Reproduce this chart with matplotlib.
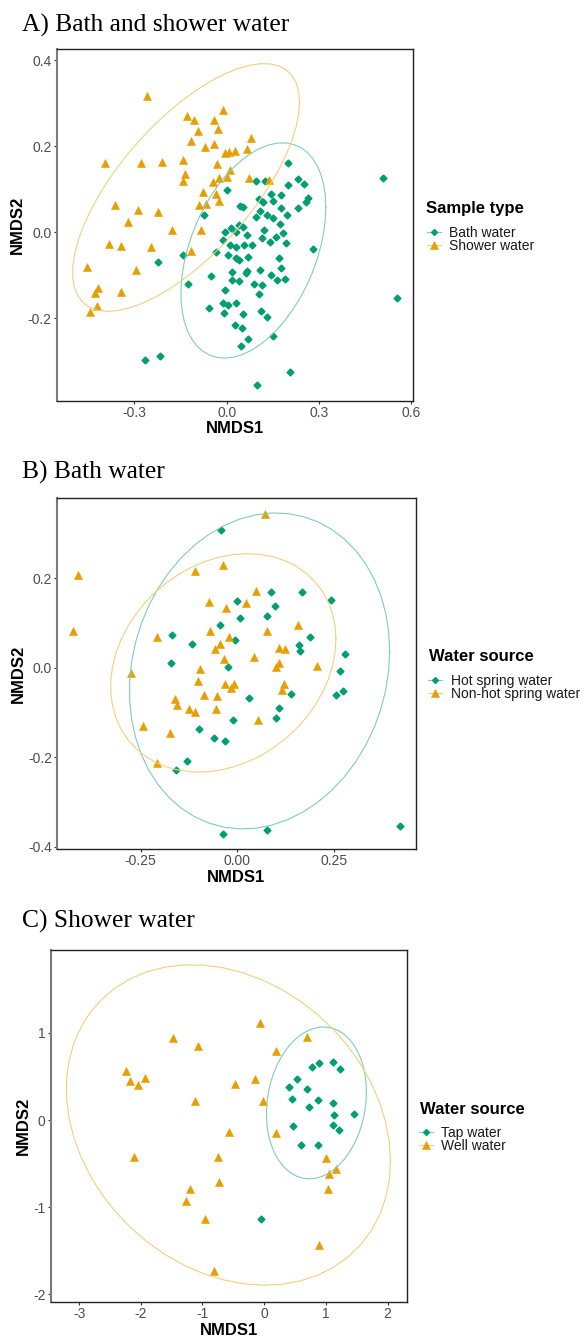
import numpy as np
import matplotlib
matplotlib.use("Agg")
import matplotlib.pyplot as plt
from matplotlib.lines import Line2D
from matplotlib.markers import MarkerStyle

# ---------------- data ----------------
# Panel A: Bath and shower water
a_bath_x = [0.200, 0.095, 0.124, 0.230, 0.251, 0.200, 0.000, 0.106, 0.145, 0.177, 0.264, 0.042, 0.052,
            0.119, 0.151, 0.176, 0.233, 0.257, -0.073, 0.108, 0.130, 0.149, 0.195, 0.013, -0.006, 0.040,
            0.054, 0.095, 0.122, 0.174, 0.182, 0.031, 0.065, 0.160, 0.114, -0.013, 0.011, 0.029, 0.057,
            0.081, 0.141, 0.193, 0.281, -0.141, -0.035, 0.005, 0.030, 0.040, 0.070, 0.171, -0.223, 0.176,
            0.018, 0.067, 0.063, 0.108, 0.143, -0.052, 0.018, 0.041, 0.162, 0.189, -0.127, 0.089, 0.114,
            -0.004, 0.106, -0.013, 0.005, 0.029, -0.009, 0.052, 0.110, 0.130, -0.057, 0.028, 0.051, 0.070,
            0.045, 0.151, -0.265, -0.218, 0.206, 0.098, 0.506, 0.552]
a_bath_y = [0.160, 0.118, 0.118, 0.124, 0.113, 0.110, 0.097, 0.077, 0.089, 0.087, 0.080, 0.060, 0.058,
            0.071, 0.073, 0.056, 0.057, 0.071, 0.039, 0.048, 0.039, 0.033, 0.040, 0.009, 0.000, 0.016,
            0.013, 0.035, 0.005, 0.019, -0.002, 0.000, -0.006, -0.012, -0.014, -0.018, -0.031, -0.035, -0.030,
            -0.030, -0.023, -0.026, -0.039, -0.053, -0.047, -0.053, -0.061, -0.064, -0.058, -0.060, -0.069, -0.083,
            -0.094, -0.090, -0.095, -0.088, -0.099, -0.101, -0.111, -0.113, -0.112, -0.109, -0.121, -0.121, -0.123,
            -0.135, -0.144, -0.165, -0.170, -0.165, -0.188, -0.191, -0.183, -0.197, -0.177, -0.217, -0.223, -0.248,
            -0.264, -0.241, -0.297, -0.288, -0.326, -0.356, 0.125, -0.154]
a_shower_x = [-0.258, -0.130, -0.105, -0.040, -0.012, -0.094, -0.029, 0.080, -0.116, -0.070, -0.041, -0.005,
              0.006, 0.027, 0.067, -0.395, -0.279, -0.209, -0.142, -0.031, -0.136, 0.011, -0.142, -0.045,
              -0.024, 0.000, 0.073, 0.138, -0.076, -0.035, -0.024, -0.091, -0.067, -0.363, -0.289, -0.222,
              -0.320, -0.178, -0.082, -0.382, -0.343, -0.246, -0.115, -0.453, -0.296, -0.419, -0.428, -0.344,
              -0.422, -0.443]
a_shower_y = [0.317, 0.270, 0.261, 0.260, 0.283, 0.236, 0.240, 0.220, 0.213, 0.198, 0.204, 0.185,
              0.187, 0.189, 0.194, 0.160, 0.160, 0.163, 0.168, 0.159, 0.136, 0.145, 0.118, 0.116,
              0.127, 0.129, 0.127, 0.122, 0.094, 0.089, 0.072, 0.063, 0.066, 0.062, 0.051, 0.047,
              0.024, 0.005, 0.004, -0.028, -0.033, -0.034, -0.045, -0.081, -0.089, -0.130, -0.142, -0.139,
              -0.173, -0.186]

# Panel B: Bath water
b_hot_x = [-0.042, 0.087, 0.168, -0.001, 0.098, -0.045, 0.006, 0.078, -0.169, -0.117, -0.006, 0.188,
           0.159, 0.162, -0.170, -0.025, 0.031, 0.139, 0.107, 0.101, -0.011, -0.100, -0.060, -0.031,
           -0.130, -0.159, -0.036, 0.078, 0.243, 0.279, 0.265, 0.256, 0.274, 0.420]
b_hot_y = [0.307, 0.169, 0.170, 0.148, 0.137, 0.096, 0.110, 0.116, 0.074, 0.052, 0.061, 0.069,
           0.051, 0.037, 0.011, 0.001, -0.067, -0.059, -0.090, -0.112, -0.118, -0.137, -0.158, -0.163,
           -0.208, -0.228, -0.372, -0.362, 0.151, 0.031, -0.008, -0.060, -0.053, -0.353]
b_non_x = [0.072, -0.412, -0.108, -0.036, 0.049, -0.074, -0.029, 0.022, -0.425, -0.208, -0.070, -0.021,
           0.077, 0.156, -0.044, -0.058, 0.107, 0.124, -0.034, 0.044, -0.275, -0.096, 0.099, 0.109,
           0.205, -0.102, -0.031, -0.009, -0.016, 0.120, 0.115, -0.087, -0.052, -0.162, -0.155, -0.125,
           -0.109, -0.054, 0.054, -0.244, -0.174, -0.207]
b_non_y = [0.343, 0.207, 0.216, 0.229, 0.172, 0.147, 0.134, 0.145, 0.081, 0.069, 0.082, 0.069,
           0.081, 0.095, 0.054, 0.041, 0.044, 0.042, 0.019, 0.024, -0.011, -0.002, 0.001, 0.010,
           0.003, -0.029, -0.036, -0.036, -0.046, -0.037, -0.051, -0.060, -0.064, -0.069, -0.083, -0.093,
           -0.098, -0.093, -0.116, -0.131, -0.146, -0.214]

# Panel C: Shower water
c_tap_x = [0.768, 0.891, 1.109, 1.227, 0.525, 0.405, 0.697, 0.449, 0.870, 1.109, 0.729, 1.454,
           1.130, 0.470, 1.118, 1.216, 0.590, 0.875, -0.053]
c_tap_y = [0.611, 0.650, 0.662, 0.585, 0.467, 0.378, 0.352, 0.241, 0.229, 0.198, 0.146, 0.065,
           0.057, -0.065, -0.061, -0.118, -0.290, -0.290, -1.132]
c_well_x = [-0.060, -1.485, -1.070, 0.195, -2.237, -2.177, -2.047, -1.929, -0.475, -0.146, -1.123,
            -0.021, 0.687, -0.577, 0.190, -2.112, -0.755, -0.739, -1.204, -1.269, -0.956, -0.815,
            1.000, 1.044, 1.162, 1.032, 0.891]
c_well_y = [1.116, 0.944, 0.849, 0.791, 0.566, 0.447, 0.405, 0.478, 0.413, 0.470, 0.222,
            0.214, 0.952, -0.138, -0.145, -0.420, -0.420, -0.707, -0.795, -0.925, -1.139, -1.732,
            -0.440, -0.619, -0.558, -0.791, -1.433]

titles = ["A) Bath and shower water", "B) Bath water", "C) Shower water"]
legend_titles = ["Sample type", "Water source", "Water source"]
labels_a = ["Bath water", "Shower water"]
labels_b = ["Hot spring water", "Non-hot spring water"]
labels_c = ["Tap water", "Well water"]

a_xticks = [-0.3, 0.0, 0.3, 0.6]; a_xtl = ["-0.3", "0.0", "0.3", "0.6"]
a_yticks = [-0.2, 0.0, 0.2, 0.4]; a_ytl = ["-0.2", "0.0", "0.2", "0.4"]
b_xticks = [-0.25, 0.0, 0.25]; b_xtl = ["-0.25", "0.00", "0.25"]
b_yticks = [-0.4, -0.2, 0.0, 0.2]; b_ytl = ["-0.4", "-0.2", "0.0", "0.2"]
c_xticks = [-3, -2, -1, 0, 1, 2]; c_xtl = ["-3", "-2", "-1", "0", "1", "2"]
c_yticks = [-2, -1, 0, 1]; c_ytl = ["-2", "-1", "0", "1"]

# ---------------- style ----------------
GREEN = "#009E73"
ORANGE = "#E69F00"
GREEN_L = "#80CEB9"
ORANGE_L = "#F3CF80"
SANS = "Liberation Sans"
SERIF = "Liberation Serif"
W, H = 586, 1338

DIAMOND = MarkerStyle("D", joinstyle="round")
TRI = MarkerStyle("^", joinstyle="round")


def cov_trob(pts, nu=5, maxit=25, tol=0.01):
    n, p = pts.shape
    loc = pts.mean(axis=0)
    w = np.ones(n)
    X = pts - loc
    for _ in range(maxit):
        w0 = w
        X = pts - loc
        sw = np.sqrt(w / w.sum())
        _, d, vt = np.linalg.svd(sw[:, None] * X, full_matrices=False)
        wX = X @ vt.T @ np.diag(1.0 / d)
        Q = (wX ** 2).sum(axis=1)
        w = (nu + p) / (nu + Q)
        loc = (w[:, None] * pts).sum(axis=0) / w.sum()
        if np.all(np.abs(w - w0) < tol):
            break
    sX = np.sqrt(w)[:, None] * X
    cov = sX.T @ sX / n
    return loc, cov


def t_ellipse(x, y, level=0.95, segments=51):
    pts = np.column_stack([x, y])
    n = len(pts)
    loc, cov = cov_trob(pts)
    dfn, dfd = 2, n - 1
    fq = dfd / 2.0 * ((1 - level) ** (-2.0 / dfd) - 1)
    radius = np.sqrt(dfn * fq)
    R = np.linalg.cholesky(cov).T
    ang = np.arange(segments + 1) * 2 * np.pi / segments
    circ = np.column_stack([np.cos(ang), np.sin(ang)])
    ell = loc + radius * (circ @ R)
    return ell[:, 0], ell[:, 1]


fig = plt.figure(figsize=(W / 100, H / 100), dpi=100)


def px_axes(left, top, right, bottom):
    return fig.add_axes([left / W, 1 - bottom / H, (right - left) / W, (bottom - top) / H])


def panel(box, g1, g2, labels, xlim, ylim, xt, xtl, yt, ytl, title, title_base,
          ylab_x, leg_title, leg_title_xy, leg_xy):
    ax = px_axes(*box)
    gx, gy = g1
    ox, oy = g2
    ax.plot(gx, gy, linestyle="none", marker=DIAMOND, ms=3.2, mfc=GREEN, mec=GREEN, mew=1.3,
            zorder=3)
    ax.plot(ox, oy, linestyle="none", marker=TRI, ms=5.9, mfc=ORANGE, mec=ORANGE, mew=0.4,
            zorder=3)
    ex, ey = t_ellipse(gx, gy)
    ax.plot(ex, ey, color=GREEN_L, lw=0.8, zorder=4)
    ex, ey = t_ellipse(ox, oy)
    ax.plot(ex, ey, color=ORANGE_L, lw=0.8, zorder=4)
    ax.set_xlim(*xlim)
    ax.set_ylim(*ylim)
    ax.set_xticks(xt)
    ax.set_xticklabels(xtl)
    ax.set_yticks(yt)
    ax.set_yticklabels(ytl)
    ax.tick_params(length=2.2, width=0.8, color="#333333", pad=1.5,
                   labelsize=10, labelcolor="#4D4D4D")
    for lab in ax.get_xticklabels() + ax.get_yticklabels():
        lab.set_family(SANS)
    for s in ["top", "right", "bottom"]:
        ax.spines[s].set_color("#222222")
        ax.spines[s].set_linewidth(1.0)
    ax.spines["left"].set_color("#7A7A7A")
    ax.spines["left"].set_linewidth(1.5)
    ax.set_xlabel("NMDS1", fontsize=12, fontweight="bold", family=SANS, color="black")
    ax.set_ylabel("NMDS2", fontsize=12, fontweight="bold", family=SANS, color="black")
    bw = box[2] - box[0]
    bh = box[3] - box[1]
    ax.xaxis.set_label_coords(0.5, -28.0 / bh)
    ax.xaxis.label.set_va("center")
    ax.yaxis.set_label_coords((ylab_x - box[0]) / bw, 0.5)
    ax.yaxis.label.set_va("center")
    fig.text(21.5 / W, 1 - title_base / H, title, family=SERIF, fontsize=18.4,
             va="baseline", ha="left")
    # legend
    fig.text(leg_title_xy[0] / W, 1 - leg_title_xy[1] / H, leg_title, family=SANS,
             fontsize=12, fontweight="bold", va="center", ha="left")
    h1 = Line2D([], [], color=GREEN_L, lw=0.8, marker=DIAMOND, ms=3.0, mfc=GREEN, mec=GREEN, mew=1.0)
    h2 = Line2D([], [], color=ORANGE_L, lw=0.8, marker=TRI, ms=5.5, mfc=ORANGE, mec=ORANGE, mew=0.4)
    leg = ax.legend([h1, h2], labels, loc="upper left",
                    bbox_to_anchor=(leg_xy[0] / W, 1 - leg_xy[1] / H),
                    bbox_transform=fig.transFigure, frameon=False, borderpad=0,
                    borderaxespad=0, handlelength=1.0, handletextpad=0.6,
                    labelspacing=-0.05, prop={"family": SANS, "size": 10})
    for t in leg.get_texts():
        t.set_color("#1A1A1A")
    return ax


panel((57, 49, 413, 401), (a_bath_x, a_bath_y), (a_shower_x, a_shower_y), labels_a,
      (-0.551, 0.605), (-0.393, 0.426), a_xticks, a_xtl, a_yticks, a_ytl,
      titles[0], 31.5, 17, legend_titles[0], (426.5, 208.3), (426.7, 225.7))

panel((57.3, 497.7, 415.7, 849.3), (b_hot_x, b_hot_y), (b_non_x, b_non_y), labels_b,
      (-0.465, 0.461), (-0.406, 0.380), b_xticks, b_xtl, b_yticks, b_ytl,
      titles[1], 479, 18.5, legend_titles[1], (429.3, 656.7), (428.3, 673.7))

panel((50.7, 950, 406.7, 1302.3), (c_tap_x, c_tap_y), (c_well_x, c_well_y), labels_c,
      (-3.46, 2.31), (-2.09, 1.95), c_xticks, c_xtl, c_yticks, c_ytl,
      titles[2], 927.5, 23.5, legend_titles[2], (420, 1109.3), (419, 1125.7))

fig.savefig("out.png", dpi=100)
